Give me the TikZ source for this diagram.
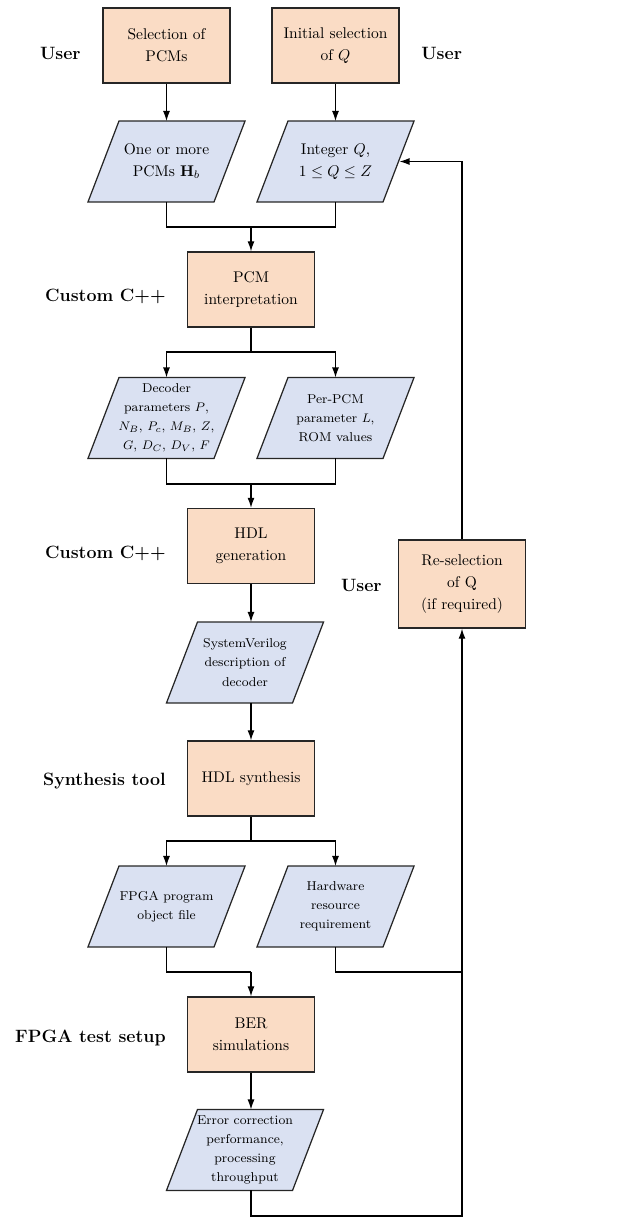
\documentclass[tikz,border=0pt]{standalone}
\usetikzlibrary{arrows.meta,backgrounds}
\definecolor{boxfill}{RGB}{250,220,197}
\definecolor{parafill}{RGB}{218,225,242}
\begin{document}
\begin{tikzpicture}[x=0.645pt,y=-0.645pt,
  proc/.style={draw=black!85, fill=boxfill, line width=0.8pt, minimum width=81.9pt, minimum height=48.4pt, align=center, inner sep=2pt, font=\fontsize{10}{14}\selectfont},
  iobig/.style={rectangle, minimum width=81.3pt, minimum height=52.2pt, align=center, inner sep=0pt, outer sep=0pt, font=\fontsize{10}{14}\selectfont},
  iosmall/.style={iobig, font=\fontsize{8.3}{12.3}\selectfont},
  paraline/.style={draw=black!85, fill=parafill, line width=0.8pt, line join=miter},
  role/.style={inner sep=0pt, font=\fontsize{11.5}{14}\selectfont\bfseries},
  arr/.style={-{Latex[length=6.5pt,width=4.5pt]}, line width=0.8pt},
  conn/.style={line width=0.8pt}]
\useasboundingbox (0,0) rectangle (621,1218);
% process boxes and data nodes
\node[proc] (sel) at (166.5,45.5) {Selection of\\PCMs};
\node[proc] (init) at (335.5,45.5) {Initial selection\\of $Q$};
\node[iobig] (pcms) at (166.5,161.5) {One or more\\PCMs $\mathbf{H}_b$};
\node[iobig] (intq) at (335.5,161.5) {Integer $Q$,\\$1\leq Q\leq Z$};
\node[proc] (interp) at (251,289.5) {PCM\\interpretation};
\node[iosmall] (dec) at (166.5,418) {Decoder\\parameters $P$,\\$N_B$, $P_c$, $M_B$, $Z$,\\$G$, $D_C$, $D_V$, $F$};
\node[iosmall] (rom) at (335.5,418) {Per-PCM\\parameter $L$,\\ROM values};
\node[proc] (gen) at (251,546) {HDL\\generation};
\node[iosmall] (sv) at (245,662.5) {SystemVerilog\\description of\\decoder};
\node[proc] (syn) at (251,778.5) {HDL synthesis};
\node[iosmall] (fpga) at (166.5,906.5) {FPGA program\\object file};
\node[iosmall] (hw) at (335.5,906.5) {Hardware\\resource\\requirement};
\node[proc] (ber) at (251,1034.5) {BER\\simulations};
\node[iosmall] (err) at (245,1150) {Error correction\\performance,\\processing\\throughput};
\node[proc, minimum height=56.8pt] (resel) at (462,584) {Re-selection\\of Q\\(if required)};
% parallelogram outlines behind the data nodes
\begin{scope}[on background layer]
\foreach \n in {pcms,intq,dec,rom,sv,fpga,hw,err}
  \draw[paraline] ([xshift=-10pt]\n.south west) -- ([xshift=-10pt]\n.south east) -- ([xshift=10pt]\n.north east) -- ([xshift=10pt]\n.north west) -- cycle;
\end{scope}
% role labels
\node[role, anchor=east] (u1) at (81,53) {User};
\node[role, anchor=west] (u2) at (421,53) {User};
\node[role, anchor=east] (c1) at (166,296) {Custom C++};
\node[role, anchor=east] (c2) at (166,553) {Custom C++};
\node[role, anchor=east] (s1) at (166,781) {Synthesis tool};
\node[role, anchor=east] (f1) at (166,1038) {FPGA test setup};
\node[role, anchor=east] (u3) at (382,585) {User};
% junctions
\coordinate (j1) at (251,227);
\coordinate (j2) at (251,352);
\coordinate (j3) at (251,484);
\coordinate (j4) at (251,841);
\coordinate (j5) at (251,972);
\coordinate (j6) at (462,972);
\coordinate (bot) at (462,1216);
% connectors
\draw[arr] (sel) -- (pcms);
\draw[arr] (init) -- (intq);
\draw[conn] (pcms.south) |- (j1);
\draw[conn] (intq.south) |- (j1);
\draw[arr] (j1) -- (interp.north);
\draw[conn] (interp.south) -- (j2);
\draw[arr] (j2) -| (dec.north);
\draw[arr] (j2) -| (rom.north);
\draw[conn] (dec.south) |- (j3);
\draw[conn] (rom.south) |- (j3);
\draw[arr] (j3) -- (gen.north);
\draw[arr] (gen.south) -- (gen.south |- sv.north);
\draw[arr] (syn.north |- sv.south) -- (syn.north);
\draw[conn] (syn.south) -- (j4);
\draw[arr] (j4) -| (fpga.north);
\draw[arr] (j4) -| (hw.north);
\draw[conn] (fpga.south) |- (j5);
\draw[arr] (j5) -- (ber.north);
\draw[conn] (hw.south) |- (j6);
\draw[arr] (ber.south) -- (ber.south |- err.north);
\draw[arr] (ber.south |- err.south) |- (bot) -- (resel.south);
\draw[arr] (resel.north) |- ([xshift=10pt*0.06]intq.east);
\end{tikzpicture}
\end{document}
